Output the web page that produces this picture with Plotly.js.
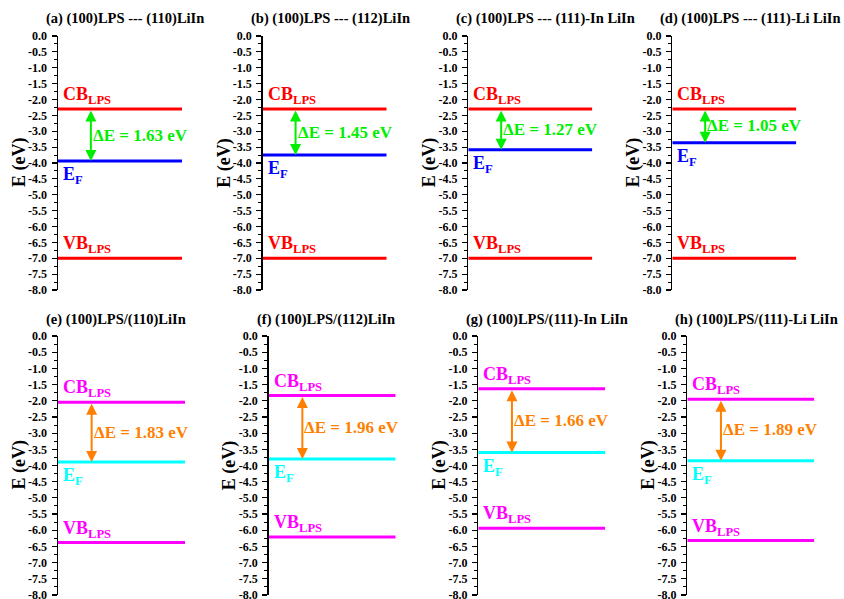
<!DOCTYPE html>
<html>
<head>
<meta charset="utf-8">
<script src="https://cdn.plot.ly/plotly-3.0.1.min.js"></script>
<style>html,body{margin:0;padding:0;background:#fff;}#chart{width:844px;height:599px;}</style>
</head>
<body>
<div id="chart"></div>
<script>
// ---- data ----
const panelTitles = [
  "(a) (100)LPS --- (110)LiIn",
  "(b) (100)LPS --- (112)LiIn",
  "(c) (100)LPS --- (111)-In LiIn",
  "(d) (100)LPS --- (111)-Li LiIn",
  "(e) (100)LPS/(110)LiIn",
  "(f) (100)LPS/(112)LiIn",
  "(g) (100)LPS/(111)-In LiIn",
  "(h) (100)LPS/(111)-Li LiIn"
];
const cbValues = [-2.30, -2.30, -2.30, -2.30, -2.05, -1.84, -1.63, -1.95];
const efValues = [-3.94, -3.75, -3.58, -3.36, -3.89, -3.80, -3.60, -3.85];
const vbValues = [-7.00, -7.00, -7.00, -7.00, -6.38, -6.21, -5.94, -6.32];
const gapLabels = ["1.63", "1.45", "1.27", "1.05", "1.83", "1.96", "1.66", "1.89"];
const tickLabels = ["0.0","-0.5","-1.0","-1.5","-2.0","-2.5","-3.0","-3.5","-4.0",
                    "-4.5","-5.0","-5.5","-6.0","-6.5","-7.0","-7.5","-8.0"];

// ---- styling ----
const FONT = "Liberation Serif, Times New Roman, serif";
const bandColor = ["#ff0000","#ff0000","#ff0000","#ff0000","#ff00ff","#ff00ff","#ff00ff","#ff00ff"];
const efColor   = ["#0000ff","#0000ff","#0000ff","#0000ff","#00ffff","#00ffff","#00ffff","#00ffff"];
const arrColor  = ["#00ee00","#00ee00","#00ee00","#00ee00","#ff7f00","#ff7f00","#ff7f00","#ff7f00"];
const W = 844, H = 599;
const axisPx = [58, 262.7, 468.3, 672.3, 58, 268.7, 478.3, 687.3];
const linePx = [124, 124, 124, 124, 127, 127, 127, 127];
const rowY = [[36, 290], [336, 595]];
const arrowX = 0.265;

const traces = [];
const layout = {
  width: W, height: H,
  margin: {l: 0, r: 0, t: 0, b: 0},
  paper_bgcolor: "#fff", plot_bgcolor: "rgba(0,0,0,0)",
  showlegend: false,
  font: {family: FONT, color: "#000"},
  annotations: []
};

for (let i = 0; i < 8; i++) {
  const n = i + 1;
  const xa = "x" + (n === 1 ? "" : n), ya = "y" + (n === 1 ? "" : n);
  const xk = "xaxis" + (n === 1 ? "" : n), yk = "yaxis" + (n === 1 ? "" : n);
  const r = i < 4 ? 0 : 1;
  const x0 = axisPx[i] / W, x1 = (axisPx[i] + linePx[i]) / W;
  layout[xk] = {domain: [x0, x1], range: [0, 1], visible: false, fixedrange: true, anchor: ya};
  layout[yk] = {
    domain: [1 - rowY[r][1] / H, 1 - rowY[r][0] / H],
    range: [-8, 0], anchor: xa, fixedrange: true,
    showline: true, linecolor: "#000", linewidth: 1.5,
    showgrid: false, zeroline: false,
    tickmode: "array", tickvals: tickLabels.map(Number), ticktext: tickLabels,
    ticks: "outside", ticklen: 5, tickwidth: 1.2, tickcolor: "#000",
    ticklabelstandoff: 2, ticklabeloverflow: "allow",
    minor: {tickmode: "linear", tick0: 0, dtick: 0.25, ticks: "outside", ticklen: 3, tickwidth: 1, tickcolor: "#000"},
    tickfont: {family: FONT, size: 12, color: "#000", weight: "bold"}
  };
  const lines = [[cbValues[i], bandColor[i]], [efValues[i], efColor[i]], [vbValues[i], bandColor[i]]];
  lines.forEach(([v, c]) => traces.push({
    type: "scatter", mode: "lines", x: [0, 1], y: [v, v], xaxis: xa, yaxis: ya,
    line: {color: c, width: 3}, hoverinfo: "skip"
  }));
  const A = layout.annotations;
  // panel title
  A.push({xref: xa + " domain", yref: ya + " domain", x: 0, y: 1, xanchor: "left", yanchor: "middle",
    xshift: -14, yshift: r === 0 ? 17 : 16.7, showarrow: false, text: panelTitles[i],
    font: {family: FONT, size: 14.5, color: "#000", weight: "bold"}});
  // y title
  A.push({xref: xa + " domain", yref: ya + " domain", x: 0, y: 0.5, xanchor: "center", yanchor: "middle",
    xshift: -39, textangle: -90, showarrow: false, text: "E (eV)",
    font: {family: FONT, size: 18, color: "#000", weight: "bold"}});
  // band labels
  A.push({xref: xa, yref: ya, x: 0, y: cbValues[i], xanchor: "left", yanchor: "bottom", xshift: 3, yshift: 0,
    showarrow: false, text: "CB<sub>LPS</sub>", font: {family: FONT, size: 18, color: bandColor[i], weight: "bold"}});
  A.push({xref: xa, yref: ya, x: 0, y: vbValues[i], xanchor: "left", yanchor: "bottom", xshift: 3, yshift: 0,
    showarrow: false, text: "VB<sub>LPS</sub>", font: {family: FONT, size: 18, color: bandColor[i], weight: "bold"}});
  A.push({xref: xa, yref: ya, x: 0, y: efValues[i], xanchor: "left", yanchor: "top", xshift: 3, yshift: -1,
    showarrow: false, text: "E<sub>F</sub>", font: {family: FONT, size: 18, color: efColor[i], weight: "bold"}});
  // double arrow
  A.push({xref: xa, yref: ya, axref: xa, ayref: ya, x: arrowX, y: efValues[i], ax: arrowX, ay: cbValues[i],
    showarrow: true, arrowside: "end+start", arrowhead: 2, arrowsize: 1.1, arrowwidth: 2,
    arrowcolor: arrColor[i], standoff: 0, startstandoff: 0, text: ""});
  // gap label
  A.push({xref: xa, yref: ya, x: arrowX, y: (cbValues[i] + efValues[i]) / 2, xanchor: "left", yanchor: "middle",
    xshift: 0, showarrow: false, text: "\u0394E = " + gapLabels[i] + " eV",
    font: {family: FONT, size: 17, color: arrColor[i], weight: "bold"}});
}

Plotly.newPlot("chart", traces, layout, {staticPlot: true, displayModeBar: false});
</script>
</body>
</html>
